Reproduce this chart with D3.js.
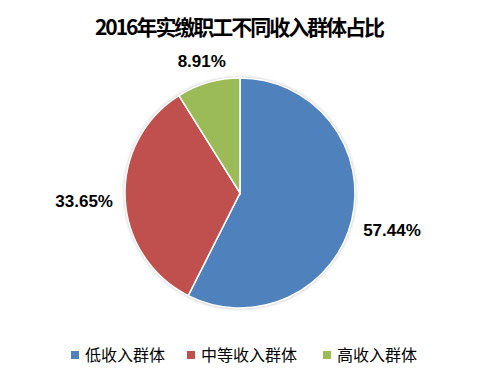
<!DOCTYPE html>
<html>
<head>
<meta charset="utf-8">
<script src="https://cdn.jsdelivr.net/npm/d3@7"></script>
<style>
  body { margin: 0; background: #fff; }
  svg { display: block; font-family: "Noto Sans CJK SC", "Liberation Sans", sans-serif; }
</style>
</head>
<body>
<div id="chart"></div>
<script>
const title = "2016年实缴职工不同收入群体占比";
const categories = ["低收入群体", "中等收入群体", "高收入群体"];
const values = [57.44, 33.65, 8.91];
const colors = ["#4F81BD", "#C0504D", "#9BBB59"];

const width = 480, height = 378;
const cx = 240, cy = 193, radius = 115;

const svg = d3.select("#chart").append("svg")
    .attr("width", width)
    .attr("height", height);

const defs = svg.append("defs");
const glow = defs.append("filter").attr("id", "glow")
    .attr("x", "-10%").attr("y", "-10%").attr("width", "120%").attr("height", "120%");
glow.append("feGaussianBlur").attr("stdDeviation", 1.5);

// title
svg.append("text")
    .attr("x", 240)
    .attr("y", 35)
    .attr("text-anchor", "middle")
    .attr("font-size", 21)
    .attr("font-weight", "bold")
    .attr("textLength", 290)
    .attr("lengthAdjust", "spacing")
    .text(title);

const pie = d3.pie().sort(null).value(d => d);
const arcs = pie(values);
const arc = d3.arc().innerRadius(0).outerRadius(radius);

const g = svg.append("g").attr("transform", `translate(${cx}, ${cy})`);

// soft edge shadow
g.append("circle")
    .attr("r", radius + 1)
    .attr("fill", "#c8c8c8")
    .attr("filter", "url(#glow)");

g.selectAll("path.slice")
    .data(arcs)
    .join("path")
    .attr("class", "slice")
    .attr("d", arc)
    .attr("fill", (d, i) => colors[i])
    .attr("stroke", "#fff")
    .attr("stroke-width", 1.5);

// labels outside end
const fmt = d => d.toFixed(2) + "%";
const labelFont = 17;
g.selectAll("text.label")
    .data(arcs)
    .join("text")
    .attr("class", "label")
    .attr("font-size", labelFont)
    .attr("font-weight", "bold")
    .attr("font-family", "'Liberation Sans', Arial, sans-serif")
    .attr("text-anchor", "middle")
    .text(d => fmt(d.data))
    .each(function (d) {
        const a = (d.startAngle + d.endAngle) / 2;
        const s = Math.sin(a), c = Math.cos(a);
        const w = this.getComputedTextLength() / 2;
        const h = 5;
        const dist = radius + 12 + w * Math.abs(s) + h * Math.abs(c);
        d3.select(this)
            .attr("x", dist * s)
            .attr("y", -dist * c + 7);
    });

// legend
const legendX = [71, 187, 323];
const legend = svg.append("g");
categories.forEach((name, i) => {
    legend.append("rect")
        .attr("x", legendX[i])
        .attr("y", 351)
        .attr("width", 8)
        .attr("height", 8)
        .attr("fill", colors[i]);
    legend.append("text")
        .attr("x", legendX[i] + 14)
        .attr("y", 361)
        .attr("font-size", 16)
        .attr("fill", "#000")
        .text(name);
});
</script>
</body>
</html>
